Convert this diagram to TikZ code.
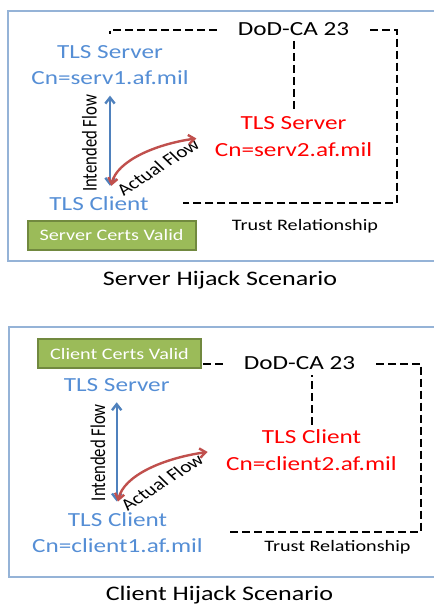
\documentclass[tikz,border=0pt]{standalone}
\usepackage{fontspec}
\setmainfont[FakeStretch=1.26]{Carlito}
\newfontfamily\flowfont{Carlito}
\usepackage{tikz}
\usetikzlibrary{arrows.meta, positioning, calc}
\usepackage{xcolor}
\definecolor{tlsblue}{RGB}{85,142,213}
\definecolor{arrowblue}{RGB}{79,129,189}
\definecolor{arrowred}{RGB}{192,80,77}
\definecolor{certgreen}{RGB}{155,187,89}
\definecolor{certborder}{RGB}{113,137,63}
\definecolor{panelblue}{RGB}{149,179,215}
\begin{document}
\begin{tikzpicture}[
  x=0.75pt, y=-0.75pt,
  party/.style={align=center, font=\fontsize{15}{20}\selectfont},
  legit/.style={party, text=tlsblue},
  rogue/.style={party, text=red},
  ca/.style={party, inner xsep=15.5pt},
  certs/.style={draw=certborder, line width=1.5pt, fill=certgreen,
    text=white, minimum width=125pt, minimum height=22pt, inner sep=0pt,
    font=\fontsize{12}{14}\selectfont},
  note/.style={font=\fontsize{12}{14}\selectfont},
  scenario/.style={font=\fontsize{15.5}{18}\selectfont},
  flowlabel/.style={font=\flowfont\fontsize{12.5}{14}\selectfont, inner sep=1pt, xscale=1.26},
  intended/.style={{Straight Barb[length=4.5pt,width=7pt]}-{Straight Barb[length=4.5pt,width=7pt]},
    line width=1.8pt, arrowblue, shorten <=4.5pt, shorten >=4.5pt},
  actual/.style={{Straight Barb[length=4.5pt,width=7pt]}-{Straight Barb[length=4.5pt,width=7pt]},
    line width=1.8pt, arrowred, shorten <=10.5pt, shorten >=4.5pt},
  swing/.style={out=188, in=78, out looseness=1.25, in looseness=0.7},
  trust/.style={draw, line width=1.5pt, dash pattern=on 6pt off 3pt},
  panel/.style={draw=panelblue, line width=0.8pt}
]
\useasboundingbox (0,0) rectangle (434,607);

% Server hijack
\draw[panel] (8,11) rectangle (440,261);
\node[ca] (ca1) at (293.5,29.5) {DoD-CA 23};
\node[legit] (srv1) at (110,65) {TLS Server\\Cn=serv1.af.mil};
\node[legit] (cli1) at (99,203.5) {TLS Client};
\node[rogue] (rogue1) at (293.5,136.5) {TLS Server\\Cn=serv2.af.mil};
\node[certs, minimum width=126pt] (certs1) at (111.5,235.5) {Server Certs Valid};
\node[note] (trust1) at (305,226) {Trust Relationship};
\node[scenario] (title1) at (220,280) {Server Hijack Scenario};
\node[flowlabel, rotate=90] (intended1) at (89.5,143.5) {Intended Flow};
\node[flowlabel, rotate=39] (actual1) at (158,167) {Actual Flow};

\coordinate (trustA1) at (110,34);
\coordinate (trustB1) at (397,203);
\coordinate (trustC1) at (183,203);
\draw[trust] (ca1.west) -| (trustA1);
\draw[trust] (ca1.east) -| (trustB1) -- (trustC1);
\draw[trust] (ca1.south) -- (rogue1.north);

\draw[intended] (srv1.south) -- (srv1.south |- cli1.north);
\draw[actual] (rogue1.west) to[swing] (srv1.south |- cli1.north);

% Client hijack
\draw[panel] (9,327) rectangle (440,577);
\node[ca] (ca2) at (299.5,363.5) {DoD-CA 23};
\node[certs, minimum width=122pt] (certs2) at (119.5,353.5) {Client Certs Valid};
\node[legit] (srv2) at (116.7,385) {TLS Server};
\node[legit] (cli2) at (117.5,532.5) {TLS Client\\Cn=client1.af.mil};
\node[rogue] (rogue2) at (311.5,450) {TLS Client\\Cn=client2.af.mil};
\node[note] (trust2) at (337.5,547) {Trust Relationship};
\node[scenario] (title2) at (219.5,595) {Client Hijack Scenario};
\node[flowlabel, rotate=90] (intended2) at (98,452.7) {Intended Flow};
\node[flowlabel, rotate=39] (actual2) at (162,482) {Actual Flow};

\coordinate (trustB2) at (421,531.5);
\coordinate (trustC2) at (227,531.5);
\draw[trust] (ca2.west) -- (ca2.west -| certs2.east);
\draw[trust] (ca2.east) -| (trustB2) -- (trustC2);
\draw[trust] (rogue2.north) -- (rogue2.north |- ca2.south);

\draw[intended] (srv2.south) -- (srv2.south |- cli2.north);
\draw[actual] (rogue2.west) to[swing] (srv2.south |- cli2.north);
\end{tikzpicture}
\end{document}
